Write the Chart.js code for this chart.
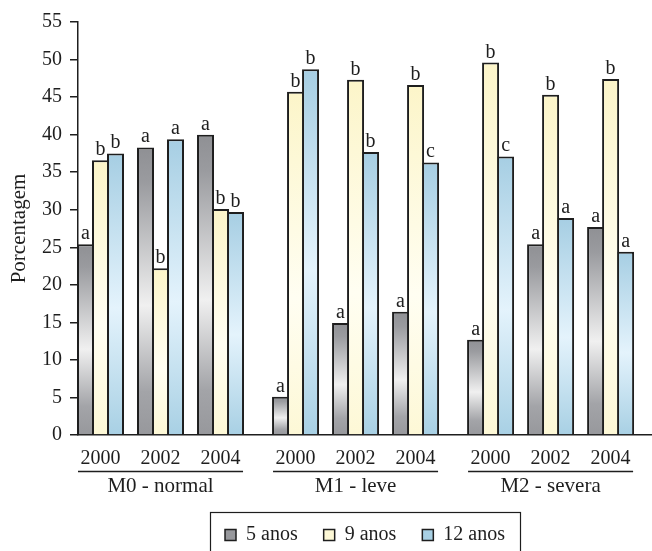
<!DOCTYPE html>
<html>
<head>
<meta charset="utf-8">
<script src="https://cdn.jsdelivr.net/npm/chart.js@4/dist/chart.umd.min.js"></script>
<style>
  html, body { margin: 0; padding: 0; background: #fff; }
  #wrap { width: 652px; height: 551px; position: relative; }
</style>
</head>
<body>
<div id="wrap"><canvas id="barChart"></canvas></div>
<script>
const categories = ['M0 - normal', 'M1 - leve', 'M2 - severa'];
const years = ['2000', '2002', '2004'];
const seriesNames = ['5 anos', '9 anos', '12 anos'];

const anos5 = [25.4, 38.3, 40.0, 5.1, 14.9, 16.4, 12.7, 25.4, 27.7];
const anos9 = [36.6, 22.2, 30.1, 45.7, 47.3, 46.6, 49.6, 45.3, 47.4];
const anos12 = [37.5, 39.4, 29.7, 48.7, 37.7, 36.3, 37.1, 28.9, 24.4];

const letters5 = ['a', 'a', 'a', 'a', 'a', 'a', 'a', 'a', 'a'];
const letters9 = ['b', 'b', 'b', 'b', 'b', 'b', 'b', 'b', 'b'];
const letters12 = ['b', 'a', 'b', 'b', 'b', 'c', 'c', 'a', 'a'];

const yTicks = [0, 5, 10, 15, 20, 25, 30, 35, 40, 45, 50, 55];

// group slots on the x scale: one unit per year, a little extra between categories
const catGap = 0.25;
const groupPos = [];
categories.forEach((c, ci) => years.forEach((y, yi) => groupPos.push(ci * (years.length + catGap) + yi)));
const catCenters = categories.map((c, ci) => ci * (years.length + catGap) + (years.length - 1) / 2);

const FONT = '"Liberation Serif", "Times New Roman", serif';
const INK = '#1e1e1e';

const grayStops = [[0, '#8f9094'], [0.12, '#9a9b9f'], [0.55, '#f0f0f0'], [0.85, '#a3a4a8'], [1, '#97989c']];
const yellowStops = [[0, '#fcf5c9'], [0.6, '#fffef2'], [1, '#fdf8d6']];
const blueStops = [[0, '#a6cee3'], [0.55, '#e4f3fc'], [1, '#a8d0e4']];

function barGradient(stops, flat) {
  return (ctx) => {
    if (ctx.type !== 'data') return flat;
    const chart = ctx.chart;
    const y = chart.scales.y;
    if (!y || !chart.chartArea) return flat;
    const top = y.getPixelForValue(ctx.parsed.y);
    const bottom = y.getPixelForValue(0);
    if (!isFinite(top) || !isFinite(bottom) || bottom - top < 1) return flat;
    const g = chart.ctx.createLinearGradient(0, top, 0, bottom);
    stops.forEach(s => g.addColorStop(s[0], s[1]));
    return g;
  };
}

const toPoints = (vals) => groupPos.map((x, i) => ({ x: x, y: vals[i] }));
const allLetters = [letters5, letters9, letters12];

const letterPlugin = {
  id: 'letters',
  afterDatasetsDraw(chart) {
    const ctx = chart.ctx;
    ctx.save();
    ctx.font = '20px ' + FONT;
    ctx.fillStyle = INK;
    ctx.textAlign = 'center';
    ctx.textBaseline = 'alphabetic';
    chart.data.datasets.forEach((ds, di) => {
      chart.getDatasetMeta(di).data.forEach((el, i) => {
        ctx.fillText(allLetters[di][i], el.x, el.y - 5);
      });
    });
    ctx.restore();
  }
};

const decorPlugin = {
  id: 'decor',
  beforeLayout(chart) {
    // keep the legend block short so its frame sits near the bottom edge
    const lg = chart.legend;
    if (lg && !lg._fixedFit) {
      const fit = lg.fit;
      lg.fit = function () { fit.call(this); this.height = 52; };
      lg._fixedFit = true;
    }
  },
  afterDraw(chart) {
    const ctx = chart.ctx;
    ctx.save();
    ctx.strokeStyle = INK;
    ctx.lineWidth = 1.5;
    // underline under each block of years
    const first = chart.getDatasetMeta(0).data;
    const last = chart.getDatasetMeta(chart.data.datasets.length - 1).data;
    const yLine = chart.scales.x.bottom + 0.5;
    categories.forEach((c, ci) => {
      const a = first[ci * years.length];
      const b = last[ci * years.length + years.length - 1];
      ctx.beginPath();
      ctx.moveTo(a.x - a.width / 2 + 1, yLine);
      ctx.lineTo(b.x + b.width / 2 - 1, yLine);
      ctx.stroke();
    });
    // frame round the legend
    const boxes = chart.legend && chart.legend.legendHitBoxes;
    if (boxes && boxes.length) {
      const l = boxes[0].left - 15;
      const r = boxes[boxes.length - 1].left + boxes[boxes.length - 1].width + 15;
      const cy = boxes[0].top + boxes[0].height / 2;
      ctx.lineWidth = 1.2;
      ctx.strokeRect(Math.round(l) + 0.5, Math.round(cy - 23) + 0.5, Math.round(r - l), 40);
    }
    ctx.restore();
  }
};

const ctx = document.getElementById('barChart').getContext('2d');
const chart = new Chart(ctx, {
  type: 'bar',
  data: {
    datasets: [
      {
        label: seriesNames[0],
        data: toPoints(anos5),
        backgroundColor: barGradient(grayStops, '#b9babd'),
        borderColor: INK,
        borderWidth: 2,
      },
      {
        label: seriesNames[1],
        data: toPoints(anos9),
        backgroundColor: barGradient(yellowStops, '#fef9d8'),
        borderColor: INK,
        borderWidth: 2,
      },
      {
        label: seriesNames[2],
        data: toPoints(anos12),
        backgroundColor: barGradient(blueStops, '#cce5f2'),
        borderColor: INK,
        borderWidth: 2,
      },
    ]
  },
  options: {
    responsive: true,
    maintainAspectRatio: false,
    animation: false,
    categoryPercentage: 0.75,
    barPercentage: 17 / 15,
    layout: {
      padding: { left: 4, top: 22, right: 0, bottom: 0 }
    },
    scales: {
      x: {
        type: 'linear',
        position: 'bottom',
        bounds: 'data',
        offset: false,
        min: -0.375,
        max: 9.19,
        weight: 0,
        afterBuildTicks: (s) => { s.ticks = groupPos.map(v => ({ value: v })); },
        afterFit: (s) => { s.height = 36; },
        ticks: {
          autoSkip: false,
          maxRotation: 0,
          padding: 12,
          color: INK,
          font: { family: FONT, size: 20 },
          callback: (v, i) => years[i % years.length],
        },
        grid: { display: false, drawTicks: false, offset: false },
        border: { display: true, color: INK, width: 1.5 },
      },
      x2: {
        type: 'linear',
        position: 'bottom',
        bounds: 'data',
        offset: false,
        min: -0.375,
        max: 9.19,
        weight: 1,
        afterBuildTicks: (s) => { s.ticks = catCenters.map(v => ({ value: v })); },
        afterFit: (s) => { s.height = 28; },
        ticks: {
          autoSkip: false,
          maxRotation: 0,
          padding: 3,
          color: INK,
          font: { family: FONT, size: 21 },
          callback: (v, i) => categories[i],
        },
        grid: { display: false, drawTicks: false, offset: false },
        border: { display: false },
      },
      y: {
        min: 0,
        max: 55,
        afterBuildTicks: (s) => { s.ticks = yTicks.map(v => ({ value: v })); },
        afterFit: (s) => { s.width = 74; },
        title: {
          display: true,
          text: 'Porcentagem',
          color: INK,
          font: { family: FONT, size: 21 },
          padding: { top: 3, bottom: 4 },
        },
        ticks: {
          padding: 8,
          color: INK,
          font: { family: FONT, size: 20 },
        },
        grid: {
          drawOnChartArea: false,
          drawTicks: true,
          tickLength: 8,
          color: INK,
          lineWidth: 1.5,
        },
        border: { display: true, color: INK, width: 1.5 },
      }
    },
    plugins: {
      legend: {
        position: 'bottom',
        fullSize: false,
        labels: {
          boxWidth: 11,
          boxHeight: 11,
          padding: 26,
          color: INK,
          font: { family: FONT, size: 20 },
          generateLabels: (chart) => Chart.defaults.plugins.legend.labels.generateLabels(chart)
            .map(item => Object.assign(item, { lineWidth: 1.5 })),
        }
      },
      tooltip: { enabled: false }
    }
  },
  plugins: [letterPlugin, decorPlugin]
});
</script>
</body>
</html>
